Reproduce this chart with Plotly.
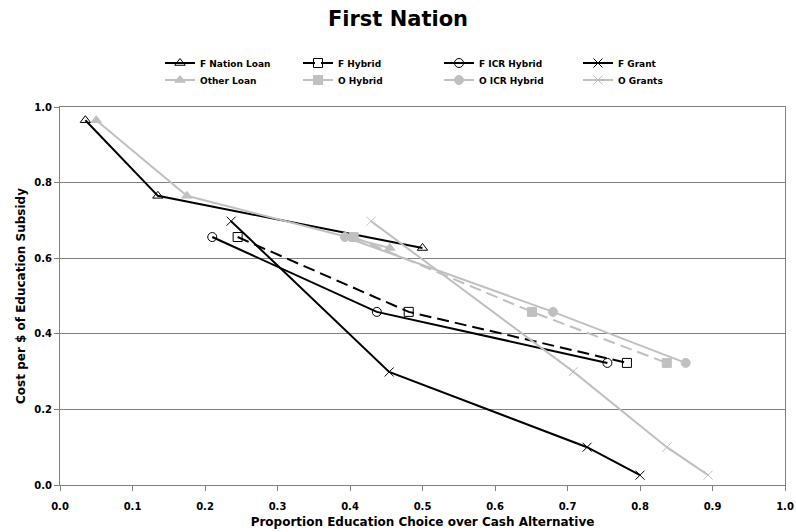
import plotly.graph_objects as go

# ---- data ----
fn_loan_x = [0.035, 0.135, 0.500]
fn_loan_y = [0.965, 0.765, 0.627]
o_loan_x = [0.050, 0.175, 0.455]
o_loan_y = [0.965, 0.765, 0.627]

f_hybrid_x = [0.245, 0.481, 0.782]
f_hybrid_y = [0.656, 0.458, 0.323]
o_hybrid_x = [0.405, 0.651, 0.837]
o_hybrid_y = [0.656, 0.458, 0.323]

f_icr_x = [0.210, 0.437, 0.755]
f_icr_y = [0.656, 0.458, 0.323]
o_icr_x = [0.393, 0.680, 0.863]
o_icr_y = [0.656, 0.458, 0.323]

f_grant_x = [0.236, 0.454, 0.727, 0.800]
f_grant_y = [0.698, 0.299, 0.100, 0.026]
o_grant_x = [0.429, 0.708, 0.837, 0.894]
o_grant_y = [0.698, 0.300, 0.100, 0.026]

x_ticks = [0.0, 0.1, 0.2, 0.3, 0.4, 0.5, 0.6, 0.7, 0.8, 0.9, 1.0]
y_ticks = [0.0, 0.2, 0.4, 0.6, 0.8, 1.0]

BLACK = "#000000"
GRAY = "#C0C0C0"
FONT = "DejaVu Sans"
DASH = "12px,6px"

fig = go.Figure()

def add(name, x, y, color, dash, symbol, legend, mline=None):
    marker = dict(symbol=symbol, size=9, color=color,
                  line=dict(color=mline or color, width=1))
    fig.add_trace(go.Scatter(x=x, y=y, name=f"<b>{name}</b>", mode="lines+markers",
                             line=dict(color=color, width=2, dash=dash),
                             marker=marker, legend=legend))

add("F Nation Loan", fn_loan_x, fn_loan_y, BLACK, "solid", "triangle-up-open", "legend", "#404040")
add("F Hybrid", f_hybrid_x, f_hybrid_y, BLACK, DASH, "square-open", "legend2", "#404040")
add("F ICR Hybrid", f_icr_x, f_icr_y, BLACK, "solid", "circle-open", "legend3", "#404040")
add("F Grant", f_grant_x, f_grant_y, BLACK, "solid", "x-thin-open", "legend4", "#606060")
add("Other Loan", o_loan_x, o_loan_y, GRAY, "solid", "triangle-up", "legend5")
add("O Hybrid", o_hybrid_x, o_hybrid_y, GRAY, DASH, "square", "legend6")
add("O ICR Hybrid", o_icr_x, o_icr_y, GRAY, "solid", "circle", "legend7")
add("O Grants", o_grant_x, o_grant_y, GRAY, "solid", "x-thin-open", "legend8", "#D0D0D0")

# legend placement (pixel positions converted to paper coords)
PL, PW, PB, PH = 60, 725, 485, 378
col_px = [160, 298, 439, 578]
row_px = [63, 80]

def legend_box(cx, ry):
    return dict(x=(cx - PL) / PW, y=(PB - ry) / PH, xanchor="left", yanchor="middle",
                orientation="h", font=dict(family=FONT, size=9, color="#000000"),
                bgcolor="rgba(0,0,0,0)", borderwidth=0, itemwidth=30)

legends = {}
names = ["legend", "legend2", "legend3", "legend4", "legend5", "legend6", "legend7", "legend8"]
for i, nm in enumerate(names):
    legends[nm] = legend_box(col_px[i % 4], row_px[i // 4])

fig.update_layout(
    width=796, height=532,
    margin=dict(l=60, r=11, t=107, b=47),
    paper_bgcolor="white", plot_bgcolor="white",
    font=dict(family=FONT, size=11, color="#000000"),
    showlegend=True,
    title=dict(text="<b>First Nation</b>", x=0.5, xanchor="center",
               y=0.965, yanchor="middle",
               font=dict(family=FONT, size=21, color="#000000")),
    xaxis=dict(range=[0, 1.0], tickvals=x_ticks,
               ticktext=[f"<b>{v:.1f}</b>" for v in x_ticks],
               showgrid=False, zeroline=False, automargin=False,
               showline=True, linecolor="#808080", linewidth=1, mirror=True,
               ticks="outside", ticklen=5, tickcolor="#808080",
               ticklabelstandoff=7,
               tickfont=dict(family=FONT, size=10),
               title=dict(text="<b>Proportion Education Choice over Cash Alternative</b>",
                          font=dict(family=FONT, size=12), standoff=6)),
    yaxis=dict(range=[0, 1.0], tickvals=y_ticks,
               ticktext=[f"<b>{v:.1f}</b>" for v in y_ticks],
               showgrid=True, gridcolor="#808080", gridwidth=1, zeroline=False,
               automargin=False,
               showline=True, linecolor="#808080", linewidth=1, mirror=True,
               ticks="outside", ticklen=5, tickcolor="#808080",
               tickfont=dict(family=FONT, size=10),
               title=dict(text="<b>Cost per $ of Education Subsidy</b>",
                          font=dict(family=FONT, size=12), standoff=6)),
    **legends,
)

fig.write_html("out.html")
